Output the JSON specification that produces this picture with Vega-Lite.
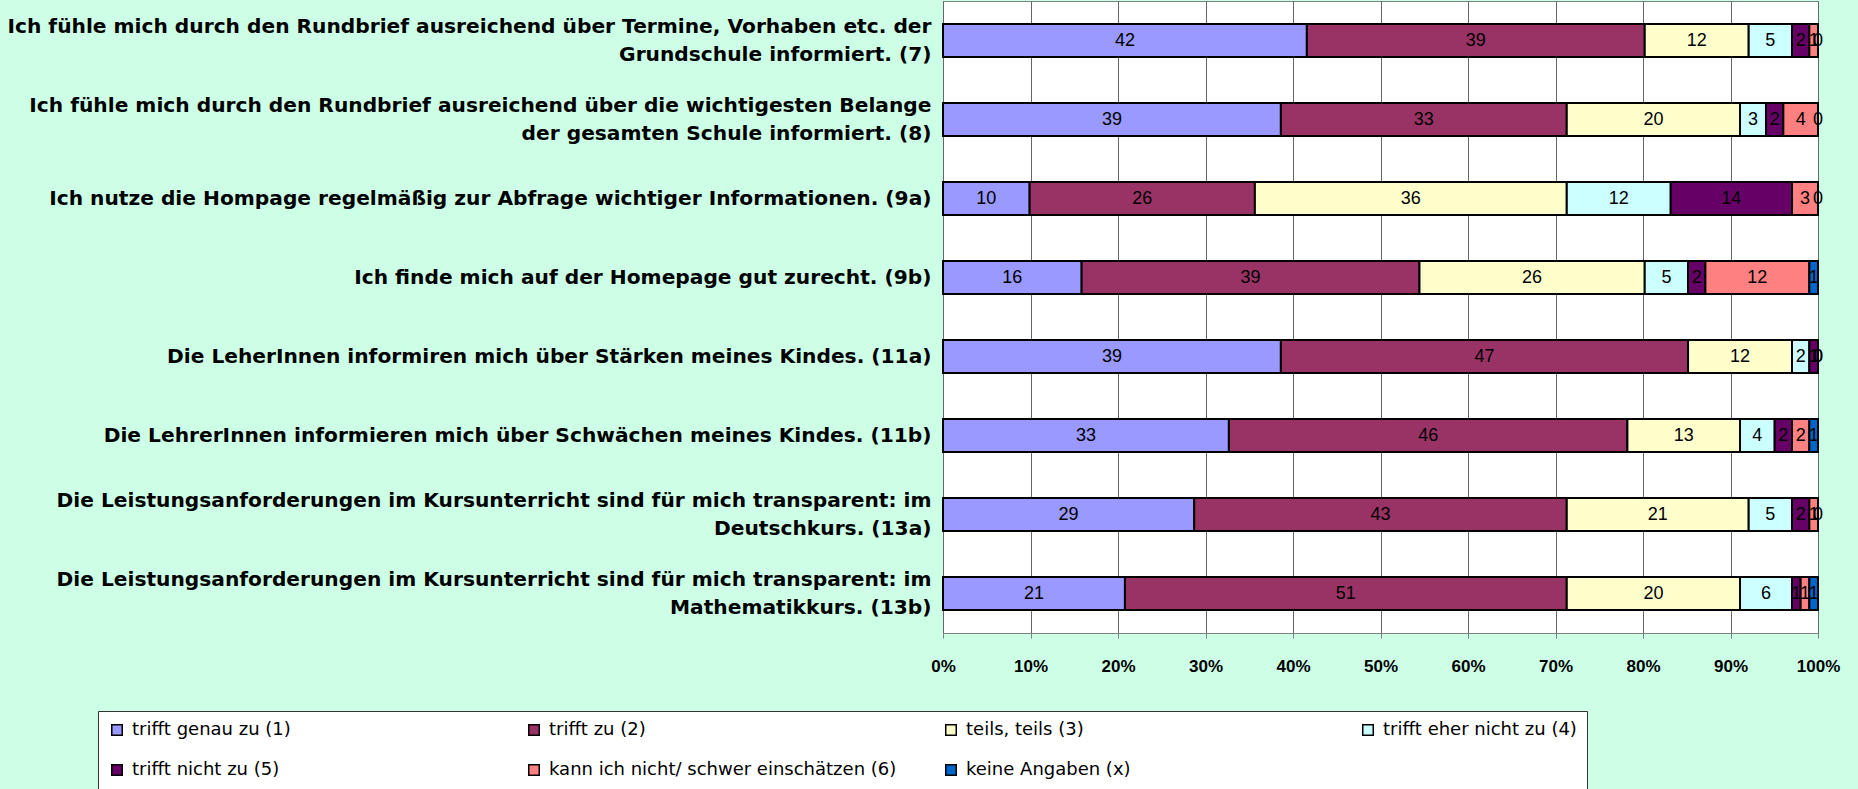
{
  "$schema": "https://vega.github.io/schema/vega-lite/v6.json",
  "autosize": {"type": "none"},
  "padding": {"left": 943, "top": 1, "right": 40, "bottom": 156},
  "width": 875,
  "height": 632,
  "background": "#CCFFE6",
  "data": {
    "values": [
      {"q": "Ich fühle mich durch den Rundbrief ausreichend über Termine, Vorhaben etc. der|Grundschule informiert. (7)", "cat": "trifft genau zu (1)", "k": 1, "v": 42},
      {"q": "Ich fühle mich durch den Rundbrief ausreichend über Termine, Vorhaben etc. der|Grundschule informiert. (7)", "cat": "trifft zu (2)", "k": 2, "v": 39},
      {"q": "Ich fühle mich durch den Rundbrief ausreichend über Termine, Vorhaben etc. der|Grundschule informiert. (7)", "cat": "teils, teils (3)", "k": 3, "v": 12},
      {"q": "Ich fühle mich durch den Rundbrief ausreichend über Termine, Vorhaben etc. der|Grundschule informiert. (7)", "cat": "trifft eher nicht zu (4)", "k": 4, "v": 5},
      {"q": "Ich fühle mich durch den Rundbrief ausreichend über Termine, Vorhaben etc. der|Grundschule informiert. (7)", "cat": "trifft nicht zu (5)", "k": 5, "v": 2},
      {"q": "Ich fühle mich durch den Rundbrief ausreichend über Termine, Vorhaben etc. der|Grundschule informiert. (7)", "cat": "kann ich nicht/ schwer einschätzen (6)", "k": 6, "v": 1},
      {"q": "Ich fühle mich durch den Rundbrief ausreichend über Termine, Vorhaben etc. der|Grundschule informiert. (7)", "cat": "keine Angaben (x)", "k": 7, "v": 0},
      {"q": "Ich fühle mich durch den Rundbrief ausreichend über die wichtigesten Belange|der gesamten Schule informiert. (8)", "cat": "trifft genau zu (1)", "k": 1, "v": 39},
      {"q": "Ich fühle mich durch den Rundbrief ausreichend über die wichtigesten Belange|der gesamten Schule informiert. (8)", "cat": "trifft zu (2)", "k": 2, "v": 33},
      {"q": "Ich fühle mich durch den Rundbrief ausreichend über die wichtigesten Belange|der gesamten Schule informiert. (8)", "cat": "teils, teils (3)", "k": 3, "v": 20},
      {"q": "Ich fühle mich durch den Rundbrief ausreichend über die wichtigesten Belange|der gesamten Schule informiert. (8)", "cat": "trifft eher nicht zu (4)", "k": 4, "v": 3},
      {"q": "Ich fühle mich durch den Rundbrief ausreichend über die wichtigesten Belange|der gesamten Schule informiert. (8)", "cat": "trifft nicht zu (5)", "k": 5, "v": 2},
      {"q": "Ich fühle mich durch den Rundbrief ausreichend über die wichtigesten Belange|der gesamten Schule informiert. (8)", "cat": "kann ich nicht/ schwer einschätzen (6)", "k": 6, "v": 4},
      {"q": "Ich fühle mich durch den Rundbrief ausreichend über die wichtigesten Belange|der gesamten Schule informiert. (8)", "cat": "keine Angaben (x)", "k": 7, "v": 0},
      {"q": "Ich nutze die Hompage regelmäßig zur Abfrage wichtiger Informationen. (9a)", "cat": "trifft genau zu (1)", "k": 1, "v": 10},
      {"q": "Ich nutze die Hompage regelmäßig zur Abfrage wichtiger Informationen. (9a)", "cat": "trifft zu (2)", "k": 2, "v": 26},
      {"q": "Ich nutze die Hompage regelmäßig zur Abfrage wichtiger Informationen. (9a)", "cat": "teils, teils (3)", "k": 3, "v": 36},
      {"q": "Ich nutze die Hompage regelmäßig zur Abfrage wichtiger Informationen. (9a)", "cat": "trifft eher nicht zu (4)", "k": 4, "v": 12},
      {"q": "Ich nutze die Hompage regelmäßig zur Abfrage wichtiger Informationen. (9a)", "cat": "trifft nicht zu (5)", "k": 5, "v": 14},
      {"q": "Ich nutze die Hompage regelmäßig zur Abfrage wichtiger Informationen. (9a)", "cat": "kann ich nicht/ schwer einschätzen (6)", "k": 6, "v": 3},
      {"q": "Ich nutze die Hompage regelmäßig zur Abfrage wichtiger Informationen. (9a)", "cat": "keine Angaben (x)", "k": 7, "v": 0},
      {"q": "Ich finde mich auf der Homepage gut zurecht. (9b)", "cat": "trifft genau zu (1)", "k": 1, "v": 16},
      {"q": "Ich finde mich auf der Homepage gut zurecht. (9b)", "cat": "trifft zu (2)", "k": 2, "v": 39},
      {"q": "Ich finde mich auf der Homepage gut zurecht. (9b)", "cat": "teils, teils (3)", "k": 3, "v": 26},
      {"q": "Ich finde mich auf der Homepage gut zurecht. (9b)", "cat": "trifft eher nicht zu (4)", "k": 4, "v": 5},
      {"q": "Ich finde mich auf der Homepage gut zurecht. (9b)", "cat": "trifft nicht zu (5)", "k": 5, "v": 2},
      {"q": "Ich finde mich auf der Homepage gut zurecht. (9b)", "cat": "kann ich nicht/ schwer einschätzen (6)", "k": 6, "v": 12},
      {"q": "Ich finde mich auf der Homepage gut zurecht. (9b)", "cat": "keine Angaben (x)", "k": 7, "v": 1},
      {"q": "Die LeherInnen informiren mich über Stärken meines Kindes. (11a)", "cat": "trifft genau zu (1)", "k": 1, "v": 39},
      {"q": "Die LeherInnen informiren mich über Stärken meines Kindes. (11a)", "cat": "trifft zu (2)", "k": 2, "v": 47},
      {"q": "Die LeherInnen informiren mich über Stärken meines Kindes. (11a)", "cat": "teils, teils (3)", "k": 3, "v": 12},
      {"q": "Die LeherInnen informiren mich über Stärken meines Kindes. (11a)", "cat": "trifft eher nicht zu (4)", "k": 4, "v": 2},
      {"q": "Die LeherInnen informiren mich über Stärken meines Kindes. (11a)", "cat": "trifft nicht zu (5)", "k": 5, "v": 1},
      {"q": "Die LeherInnen informiren mich über Stärken meines Kindes. (11a)", "cat": "kann ich nicht/ schwer einschätzen (6)", "k": 6, "v": 0},
      {"q": "Die LeherInnen informiren mich über Stärken meines Kindes. (11a)", "cat": "keine Angaben (x)", "k": 7, "v": 0},
      {"q": "Die LehrerInnen informieren mich über Schwächen meines Kindes. (11b)", "cat": "trifft genau zu (1)", "k": 1, "v": 33},
      {"q": "Die LehrerInnen informieren mich über Schwächen meines Kindes. (11b)", "cat": "trifft zu (2)", "k": 2, "v": 46},
      {"q": "Die LehrerInnen informieren mich über Schwächen meines Kindes. (11b)", "cat": "teils, teils (3)", "k": 3, "v": 13},
      {"q": "Die LehrerInnen informieren mich über Schwächen meines Kindes. (11b)", "cat": "trifft eher nicht zu (4)", "k": 4, "v": 4},
      {"q": "Die LehrerInnen informieren mich über Schwächen meines Kindes. (11b)", "cat": "trifft nicht zu (5)", "k": 5, "v": 2},
      {"q": "Die LehrerInnen informieren mich über Schwächen meines Kindes. (11b)", "cat": "kann ich nicht/ schwer einschätzen (6)", "k": 6, "v": 2},
      {"q": "Die LehrerInnen informieren mich über Schwächen meines Kindes. (11b)", "cat": "keine Angaben (x)", "k": 7, "v": 1},
      {"q": "Die Leistungsanforderungen im Kursunterricht sind für mich transparent: im|Deutschkurs. (13a)", "cat": "trifft genau zu (1)", "k": 1, "v": 29},
      {"q": "Die Leistungsanforderungen im Kursunterricht sind für mich transparent: im|Deutschkurs. (13a)", "cat": "trifft zu (2)", "k": 2, "v": 43},
      {"q": "Die Leistungsanforderungen im Kursunterricht sind für mich transparent: im|Deutschkurs. (13a)", "cat": "teils, teils (3)", "k": 3, "v": 21},
      {"q": "Die Leistungsanforderungen im Kursunterricht sind für mich transparent: im|Deutschkurs. (13a)", "cat": "trifft eher nicht zu (4)", "k": 4, "v": 5},
      {"q": "Die Leistungsanforderungen im Kursunterricht sind für mich transparent: im|Deutschkurs. (13a)", "cat": "trifft nicht zu (5)", "k": 5, "v": 2},
      {"q": "Die Leistungsanforderungen im Kursunterricht sind für mich transparent: im|Deutschkurs. (13a)", "cat": "kann ich nicht/ schwer einschätzen (6)", "k": 6, "v": 1},
      {"q": "Die Leistungsanforderungen im Kursunterricht sind für mich transparent: im|Deutschkurs. (13a)", "cat": "keine Angaben (x)", "k": 7, "v": 0},
      {"q": "Die Leistungsanforderungen im Kursunterricht sind für mich transparent: im|Mathematikkurs. (13b)", "cat": "trifft genau zu (1)", "k": 1, "v": 21},
      {"q": "Die Leistungsanforderungen im Kursunterricht sind für mich transparent: im|Mathematikkurs. (13b)", "cat": "trifft zu (2)", "k": 2, "v": 51},
      {"q": "Die Leistungsanforderungen im Kursunterricht sind für mich transparent: im|Mathematikkurs. (13b)", "cat": "teils, teils (3)", "k": 3, "v": 20},
      {"q": "Die Leistungsanforderungen im Kursunterricht sind für mich transparent: im|Mathematikkurs. (13b)", "cat": "trifft eher nicht zu (4)", "k": 4, "v": 6},
      {"q": "Die Leistungsanforderungen im Kursunterricht sind für mich transparent: im|Mathematikkurs. (13b)", "cat": "trifft nicht zu (5)", "k": 5, "v": 1},
      {"q": "Die Leistungsanforderungen im Kursunterricht sind für mich transparent: im|Mathematikkurs. (13b)", "cat": "kann ich nicht/ schwer einschätzen (6)", "k": 6, "v": 1},
      {"q": "Die Leistungsanforderungen im Kursunterricht sind für mich transparent: im|Mathematikkurs. (13b)", "cat": "keine Angaben (x)", "k": 7, "v": 1}
    ]
  },
  "encoding": {
    "y": {
      "field": "q", "type": "nominal", "sort": null, "title": null,
      "scale": {"paddingInner": 0.58, "paddingOuter": 0.29},
      "axis": {
        "labelExpr": "split(datum.label, '|')",
        "labelFont": "DejaVu Sans", "labelFontWeight": "bold", "labelFontSize": 20.2,
        "labelColor": "black", "labelLimit": 1000, "labelLineHeight": 28,
        "labelOffset": {"condition": {"test": "indexof(datum.value, '|') >= 0", "value": -14}, "value": 0},
        "labelPadding": 12, "ticks": false, "domain": false, "labelAlign": "right"
      }
    },
    "x": {
      "field": "v", "type": "quantitative", "stack": "normalize", "title": null,
      "scale": {"domain": [0, 1], "nice": false},
      "axis": {
        "values": [0, 0.1, 0.2, 0.3, 0.4, 0.5, 0.6, 0.7, 0.8, 0.9, 1],
        "format": ".0%", "labelFont": "Liberation Sans", "labelFontWeight": "bold",
        "labelFontSize": 17, "labelColor": "black", "labelPadding": 20,
        "tickColor": "#808080", "tickSize": 5, "domainColor": "#808080",
        "grid": true, "gridColor": "#666666", "gridWidth": 1, "labelFlush": false
      }
    },
    "order": {"field": "k", "type": "quantitative"}
  },
  "layer": [
    {
      "mark": {"type": "bar", "stroke": "black", "strokeWidth": 2},
      "encoding": {
        "color": {
          "field": "cat", "type": "nominal", "title": null,
          "scale": {
            "domain": ["trifft genau zu (1)", "trifft zu (2)", "teils, teils (3)", "trifft eher nicht zu (4)", "trifft nicht zu (5)", "kann ich nicht/ schwer einschätzen (6)", "keine Angaben (x)"],
            "range": ["#9999FF", "#993366", "#FFFFCC", "#CCFFFF", "#660066", "#FF8080", "#0066CC"]
          },
          "legend": {
            "orient": "none", "legendX": -845, "legendY": 710, "direction": "horizontal",
            "columns": 4, "gridAlign": "all", "fillColor": "white", "strokeColor": "#333333",
            "padding": 10, "rowPadding": 22, "columnPadding": 45, "symbolType": "square",
            "symbolSize": 110, "symbolStrokeColor": "black", "symbolStrokeWidth": 1.5,
            "symbolOpacity": 1, "labelFont": "DejaVu Sans", "labelFontSize": 18,
            "labelColor": "black", "labelLimit": 800, "labelOffset": 6
          }
        }
      }
    },
    {
      "mark": {"type": "text", "font": "Liberation Sans", "fontSize": 18, "color": "black", "baseline": "middle"},
      "encoding": {
        "x": {"field": "v", "type": "quantitative", "stack": "normalize", "bandPosition": 0.5},
        "detail": {"field": "cat", "type": "nominal"},
        "text": {"field": "v", "type": "quantitative"}
      }
    }
  ],
  "config": {
    "view": {"stroke": "#808080", "fill": "white"}
  }
}
